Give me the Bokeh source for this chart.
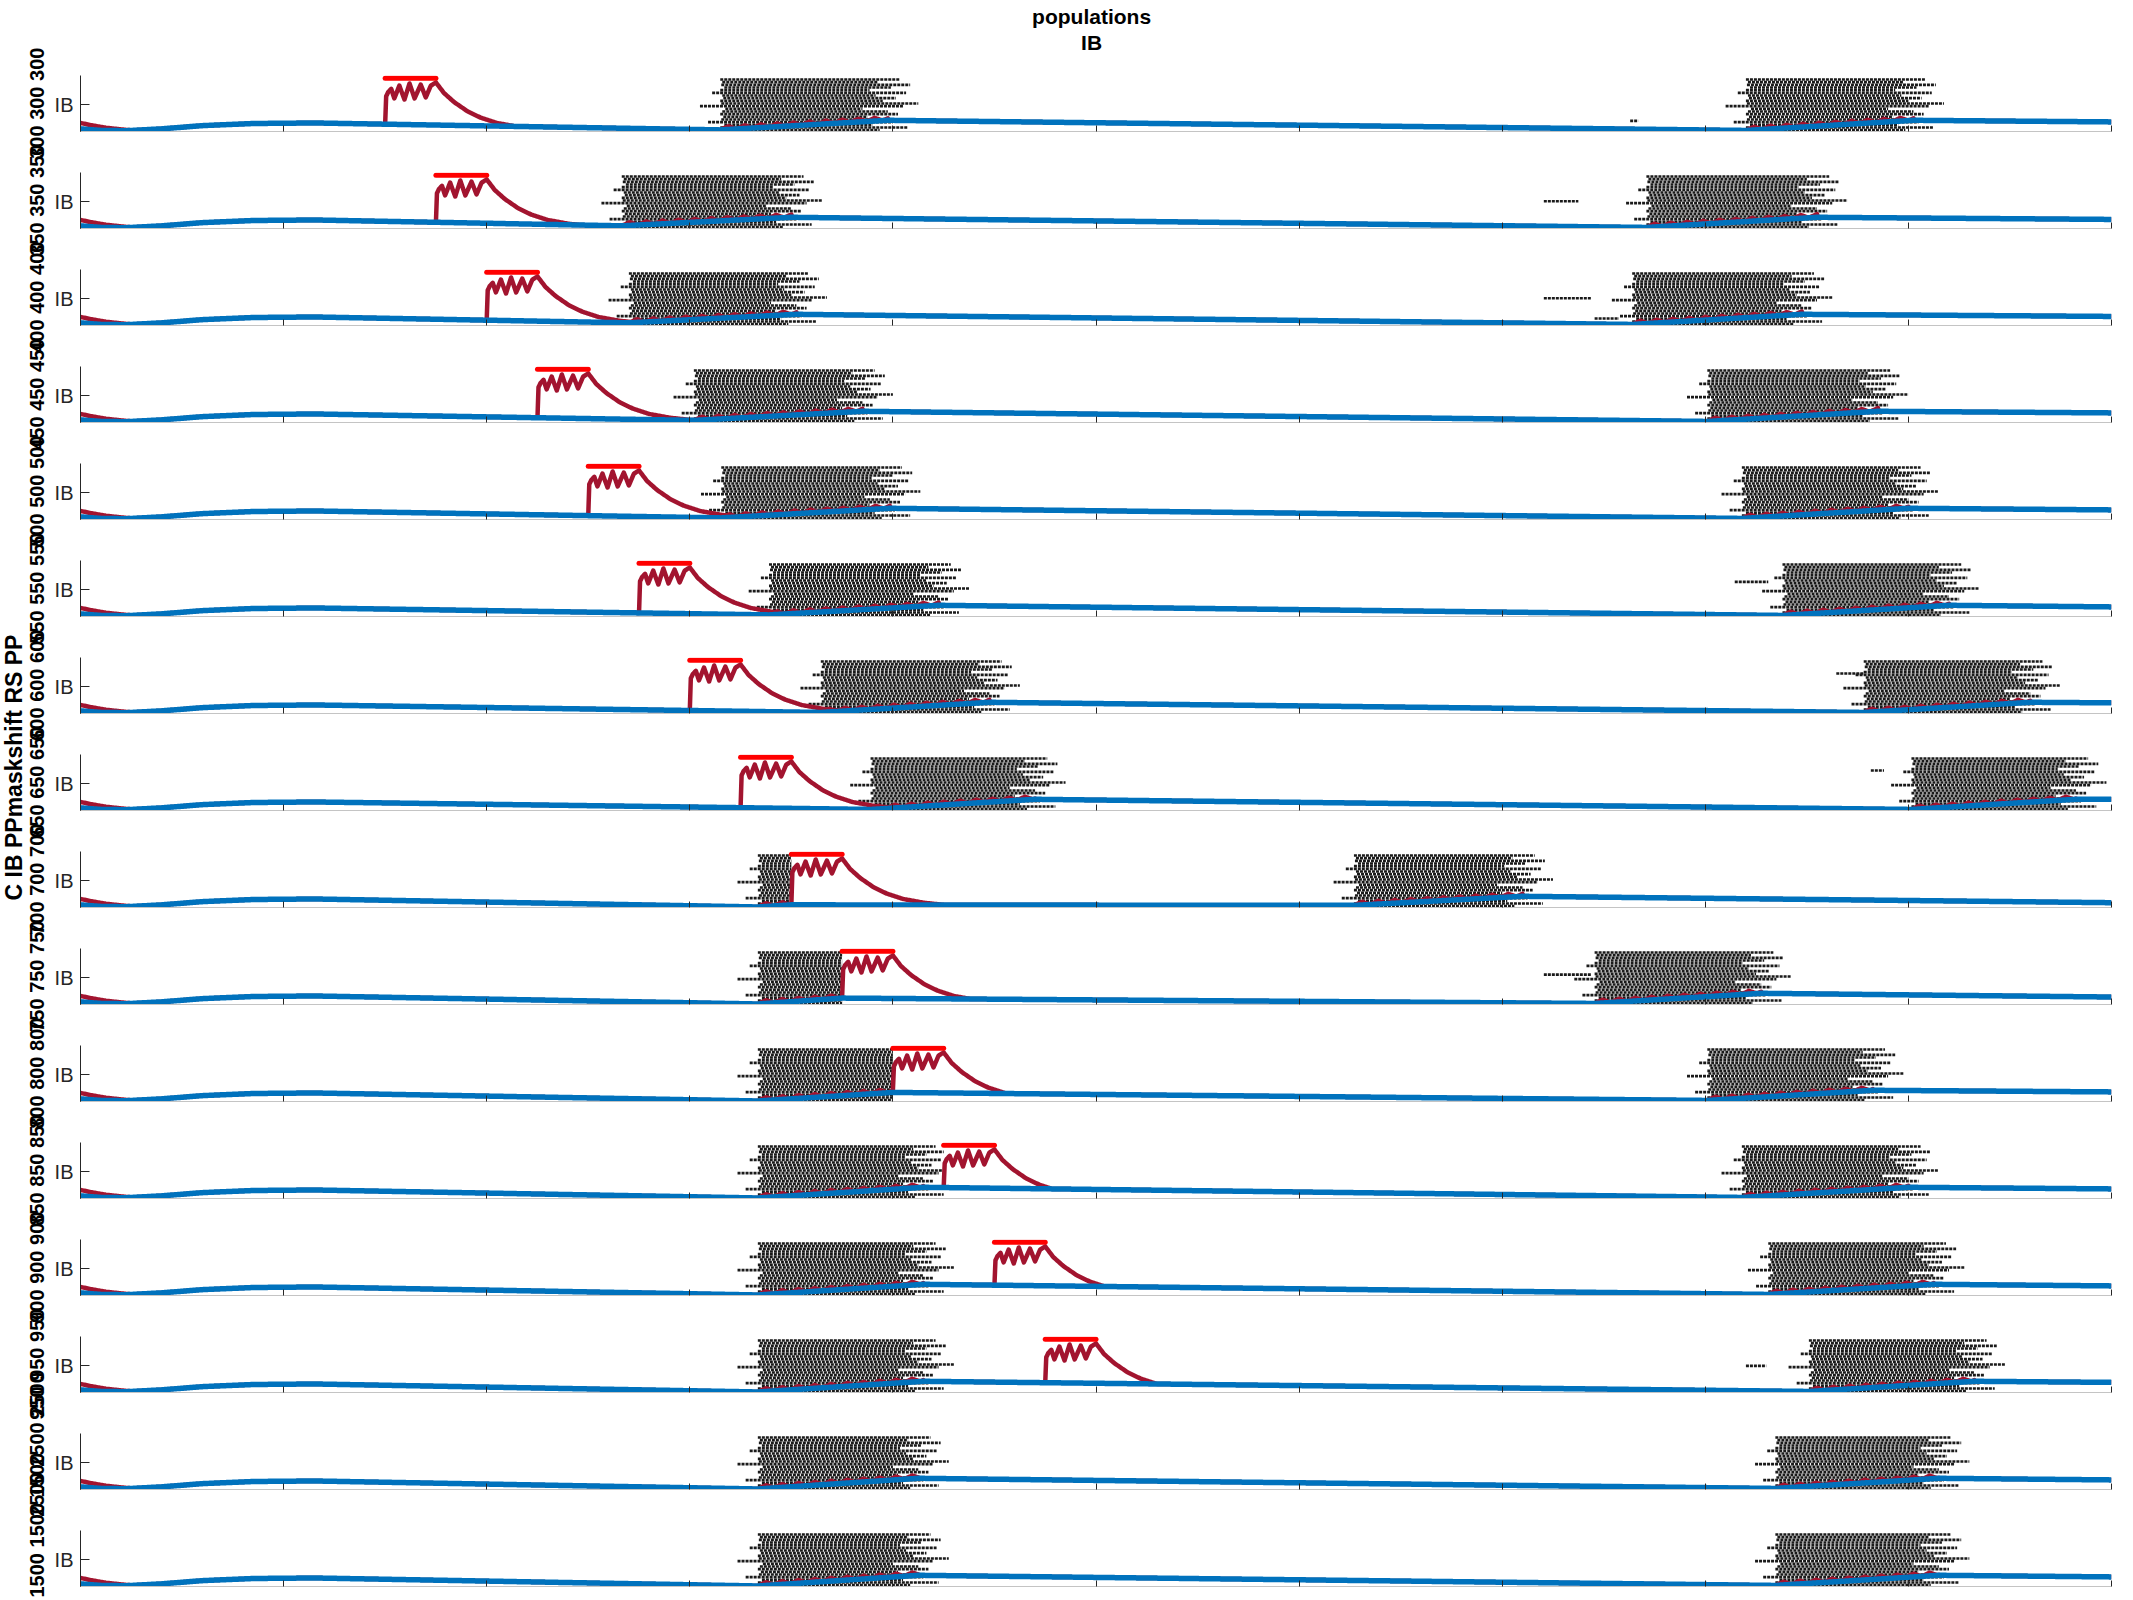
import numpy as np
from math import pi
from bokeh.plotting import figure
from bokeh.layouts import column, row
from bokeh.models import Range1d, FixedTicker, ColumnDataSource
from bokeh.core.properties import value
from bokeh.embed import file_html
from bokeh.resources import INLINE

# ---------------- data ----------------
TITLE_LINES = ["populations", "IB"]
Y_LABEL = "C IB PPmaskshift RS PP"
ROW_LABELS = ["300", "350", "400", "450", "500", "550", "600", "650",
              "700", "750", "800", "850", "900", "950", "2500", "1500"]
X_TICKS = [0, 200, 400, 600, 800, 1000, 1200, 1400, 1600, 1800, 2000]
N_NEURONS = 20

STIM_ON = [300, 350, 400, 450, 500, 550, 600, 650, 700, 750, 800, 850, 900, 950, None, None]
STIM_DUR = 50

A_ON = [630, 533, 540, 604, 631, 678, 729, 778, 667, 667, 667, 667, 667, 667, 667, 667]
A_OFF = [795, 700, 705, 770, 797, 845, 895, 940, 825, 825, 825, 830, 830, 830, 825, 825]
B_ON = [1640, 1542, 1528, 1602, 1636, 1676, 1756, 1803, 1254, 1491, 1602, 1636, 1662, 1702, 1669, 1669]
B_OFF = [1805, 1710, 1695, 1770, 1800, 1840, 1920, 1965, 1420, 1655, 1765, 1800, 1825, 1865, 1830, 1830]

LEFT_JITTER = [2, 0, 4, -12, 1, 3, 0, 2, 5, -20, 1, 0, 3, 2, -8, 0, 4, 1, 2, 0]
RIGHT_JITTER = [-8, 20, -15, 5, 25, -20, 10, 0, -25, 15, 30, -5, 8, -12, 18, -18, 3, 22, -10, 12]

# isolated spike runs: row index, start, end, height (fraction of the raster)
SCATTER_ROW = [1, 2, 2, 9, 13, 5, 6, 7, 0]
SCATTER_T0 = [1441, 1441, 1491, 1441, 1640, 1629, 1729, 1763, 1526]
SCATTER_T1 = [1475, 1488, 1515, 1488, 1660, 1662, 1756, 1776, 1534]
SCATTER_Y = [0.51, 0.51, 0.13, 0.56, 0.50, 0.65, 0.75, 0.75, 0.20]

BLUE_START_T = [0, 20, 45, 80, 120, 170, 230]
BLUE_START_V = [0.05, 0.02, 0.015, 0.05, 0.11, 0.15, 0.16]
BLUE_PRE_A = [0.03, 0.05, 0.05, 0.04, 0.03, 0.03, 0.02, 0.02, 0.01, 0.01, 0.01, 0.01, 0.01, 0.01, 0.01, 0.01]
BLUE_POST_A = [0.21, 0.21, 0.21, 0.21, 0.21, 0.21, 0.21, 0.21, 0.05, 0.12, 0.17, 0.21, 0.21, 0.21, 0.21, 0.21]
BLUE_PRE_B = [0.02, 0.02, 0.02, 0.02, 0.02, 0.02, 0.02, 0.02, 0.04, 0.02, 0.02, 0.02, 0.02, 0.02, 0.02, 0.02]
BLUE_POST_B = [0.21] * 16
BLUE_END = [0.18, 0.17, 0.17, 0.18, 0.18, 0.18, 0.20, 0.21, 0.09, 0.14, 0.18, 0.18, 0.18, 0.19, 0.18, 0.18]

RED_START_T = [0, 10, 25, 45, 70]
RED_START_V = [0.16, 0.12, 0.07, 0.03, 0.0]

PULSE_DT = [0, 1, 3, 6, 9, 14, 19, 24, 29, 35, 40, 45, 50, 58, 68, 81, 94, 110, 130, 150, 175, 200]
PULSE_V = [0.04, 0.66, 0.74, 0.80, 0.62, 0.86, 0.60, 0.90, 0.62, 0.88, 0.64, 0.86, 0.92,
           0.72, 0.55, 0.38, 0.26, 0.16, 0.09, 0.05, 0.03, 0.02]

BUMP_DT = [0, 8, 16]
BUMP_V = [0.0, 0.06, 0.0]

# ---------------- layout constants ----------------
LEFT_W = 48
MAIN_W = 2133 - LEFT_W
HEADER_H = 56
ROW_H = 97
N_ROWS = len(ROW_LABELS)

BLUE = "#0072BD"
RED = "#A2142F"
FONT = value("Liberation Sans")


def plain_fig(w, h, xr, yr):
    p = figure(width=w, height=h, x_range=xr, y_range=yr, output_backend="svg",
               toolbar_location=None, x_axis_location=None, y_axis_location=None,
               min_border=0, min_border_left=0, min_border_right=0,
               min_border_top=0, min_border_bottom=0)
    p.grid.visible = False
    p.outline_line_color = None
    p.background_fill_color = "white"
    p.border_fill_color = "white"
    return p


# left strip with the rotated labels
left = plain_fig(LEFT_W, 1600, Range1d(0, LEFT_W), Range1d(1600, 0))
centers = [HEADER_H + 19 + ROW_H * i + 29.3 for i in range(N_ROWS)]
anchors = [min(c + 54, 1597) for c in centers]
left.text(x=[36] * N_ROWS, y=anchors, text=[" ".join([v] * 3) for v in ROW_LABELS],
          angle=pi / 2, text_align="left", text_baseline="middle",
          text_font=FONT, text_font_style="bold", text_font_size="20px", text_color="black")
left.text(x=[13], y=[767], text=[Y_LABEL], angle=pi / 2, text_align="center",
          text_baseline="middle", text_font=FONT, text_font_style="bold",
          text_font_size="23px", text_color="black")

# header with the title
header = plain_fig(MAIN_W, HEADER_H, Range1d(0, MAIN_W), Range1d(HEADER_H, 0))
header.text(x=[1038, 1038], y=[16, 42], text=TITLE_LINES, text_align="center",
            text_baseline="middle", text_font=FONT, text_font_style="bold",
            text_font_size="21px", text_color="black")

t = np.arange(0, 2001, 1.0)
rows = []
for i in range(N_ROWS):
    last = i == N_ROWS - 1
    h = 1600 - HEADER_H - ROW_H * (N_ROWS - 1) if last else ROW_H
    bb = h - 19 - 56
    p = figure(width=MAIN_W, height=h, x_range=Range1d(0, 2000), y_range=Range1d(0, 1.05),
               min_border_left=32, min_border_right=22, min_border_top=19, min_border_bottom=bb,
               output_backend="svg", toolbar_location=None)
    p.grid.visible = False
    p.outline_line_color = None
    xa = p.xaxis[0]
    xa.ticker = FixedTicker(ticks=[], minor_ticks=X_TICKS)
    xa.major_tick_line_color = None
    xa.minor_tick_in = 6
    xa.minor_tick_out = 0
    xa.minor_tick_line_color = "#262626"
    xa.axis_line_color = "#c4c4c4"
    xa.major_label_standoff = 0
    ya = p.yaxis[0]
    ya.ticker = FixedTicker(ticks=[0.5])
    ya.major_label_overrides = {0.5: "IB"}
    ya.major_tick_in = 9
    ya.major_tick_out = 0
    ya.minor_tick_line_color = None
    ya.axis_line_color = "#262626"
    ya.major_tick_line_color = "#262626"
    ya.major_label_standoff = 7
    ya.major_label_text_font = "Liberation Sans"
    ya.major_label_text_font_size = "20px"
    ya.major_label_text_color = "#262626"

    stim = STIM_ON[i]
    # raster
    x0s, x1s, ys = [], [], []
    for on, off in ((A_ON[i], A_OFF[i]), (B_ON[i], B_OFF[i])):
        for k in range(N_NEURONS):
            a = on + LEFT_JITTER[k]
            b = off + RIGHT_JITTER[k]
            if stim is not None and on < stim:
                b = min(b, stim)
            if b > a:
                x0s.append(a)
                x1s.append(b)
                ys.append((k + 0.5) / N_NEURONS)
    for r, s0, s1, sy in zip(SCATTER_ROW, SCATTER_T0, SCATTER_T1, SCATTER_Y):
        if r == i:
            x0s.append(s0)
            x1s.append(s1)
            ys.append(sy)
    src = ColumnDataSource(dict(x0=x0s, x1=x1s, y=ys))
    p.segment(x0="x0", y0="y", x1="x1", y1="y", source=src, line_color="#1a1a1a",
              line_width=2.6, line_dash="3 1")

    # traces
    a_end = A_OFF[i] if (stim is None or A_ON[i] > stim) else min(A_OFF[i], stim)
    bt = BLUE_START_T + [A_ON[i], a_end, B_ON[i], B_OFF[i], 2000]
    bv = BLUE_START_V + [BLUE_PRE_A[i], BLUE_POST_A[i], BLUE_PRE_B[i], BLUE_POST_B[i], BLUE_END[i]]
    blue = np.interp(t, bt, bv)
    red = blue.copy()
    st = t <= RED_START_T[-1]
    red[st] = np.maximum(red[st], np.interp(t[st], RED_START_T, RED_START_V))
    for on, off in ((A_ON[i], a_end), (B_ON[i], B_OFF[i])):
        m = (t >= on) & (t <= off)
        red[m] = blue[m] + np.interp((t[m] - on) % BUMP_DT[-1], BUMP_DT, BUMP_V)
    if stim is not None:
        m = (t >= stim) & (t <= stim + PULSE_DT[-1])
        red[m] = np.maximum(red[m], np.interp(t[m] - stim, PULSE_DT, PULSE_V))
    p.line(t, red, line_color=RED, line_width=4.5, line_join="round")
    p.line(t, blue, line_color=BLUE, line_width=5.5, line_join="round")
    if stim is not None:
        p.segment(x0=[stim], y0=[1.0], x1=[stim + STIM_DUR], y1=[1.0],
                  line_color="#FF0000", line_width=5, line_cap="round")
    rows.append(p)

layout = row(left, column(header, *rows, spacing=0), spacing=0)
open("out.html", "w").write(file_html(layout, INLINE))
